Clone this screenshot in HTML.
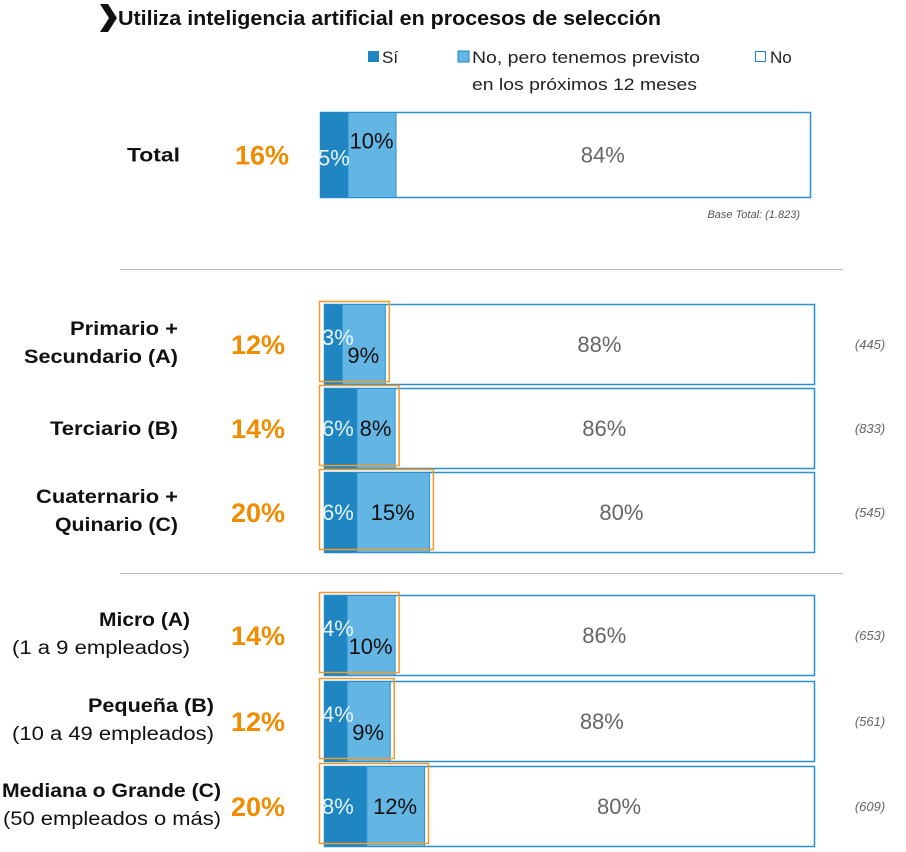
<!DOCTYPE html>
<html><head><meta charset="utf-8"><style>
body{margin:0;background:#fff}
svg{display:block;font-family:"Liberation Sans",sans-serif}
</style></head><body>
<svg id="chart" width="906" height="852" viewBox="0 0 906 852">
<path d="M100,4 L108,4 L117,18 L108,32 L100,32 L109,18 Z" fill="#111"/>
<text x="118" y="25" font-size="20" font-weight="bold" fill="#111" textLength="543" lengthAdjust="spacingAndGlyphs">Utiliza inteligencia artificial en procesos de selección</text>
<g>
<rect x="368" y="51" width="11" height="11" fill="#1f86c1"/>
<text x="382" y="63" font-size="17" fill="#222">Sí</text>
<rect x="458" y="51" width="11" height="11" fill="#63b6e4" stroke="#1f86c1" stroke-width="1"/>
<text x="472" y="63" font-size="17" fill="#222" textLength="228" lengthAdjust="spacingAndGlyphs">No, pero tenemos previsto</text>
<text x="472" y="90" font-size="17" fill="#222" textLength="225" lengthAdjust="spacingAndGlyphs">en los próximos 12 meses</text>
<rect x="755.5" y="51.5" width="10" height="10" fill="#fff" stroke="#1f86c1"/>
<text x="770" y="63" font-size="17" fill="#222">No</text>
</g>
<line x1="120" y1="269.5" x2="843" y2="269.5" stroke="#bbb"/>
<line x1="120" y1="573.5" x2="843" y2="573.5" stroke="#bbb"/>
<text x="800" y="218" font-size="11" font-style="italic" fill="#555" text-anchor="end">Base Total: (1.823)</text>
<g id="bars"></g>
</svg>
<script>
const labels1 = ["Total","Primario +","Terciario (B)","Cuaternario +","Micro (A)","Pequeña (B)","Mediana o Grande (C)"];
const labels2 = ["","Secundario (A)","","Quinario (C)","(1 a 9 empleados)","(10 a 49 empleados)","(50 empleados o más)"];
const siValues = [5,3,6,6,4,4,8];
const previstoValues = [10,9,8,15,10,9,12];
const noValues = [84,88,86,80,86,88,80];
const totalValues = ["16%","12%","14%","20%","14%","12%","20%"];
const baseValues = ["","(445)","(833)","(545)","(653)","(561)","(609)"];

const rowsY=[112,304,388,472,595,681,766], barW=490;
const labelEnd=[180,178,178,178,190,214,221];
const w1Len=[53,108,128,142,91,126,219];
const w2Len=[0,154,0,123,178,202,218];
const NS="http://www.w3.org/2000/svg", g=document.getElementById('bars');
function el(t,a,txt){const e=document.createElementNS(NS,t);for(const k in a)e.setAttribute(k,a[k]);if(txt!==undefined)e.textContent=txt;g.appendChild(e);return e;}
function sx(v){return v*4.9;}
for(let i=0;i<rowsY.length;i++){
  const y=rowsY[i], x0=i==0?320:324, barH=i==0?85:80;
  const w1=sx(siValues[i])+3, w2=sx(previstoValues[i])-1;
  const cy=y+barH/2;
  let r=el('rect',{x:x0+.5,y:y+.5,width:barW,height:barH,fill:'#fff',stroke:'#2a8fcf','stroke-width':1.5});
  
  
  r=el('rect',{x:x0+.5,y:y+.5,width:w1,height:barH,fill:'#1f86c1'});
  
  
  r=el('rect',{x:x0+.5+w1,y:y+.5,width:w2,height:barH,fill:'#63b6e4',stroke:'#2a8fcf','stroke-width':1});
  
  
  if(i>0){
    r=el('rect',{x:x0-4.5,y:y-2.5,width:w1+w2+9,height:barH,fill:'none',stroke:'#f39a2b','stroke-width':1.5});
    
    
  }
  const off=(siValues[i]<5||i==0);
  let t=el('text',{x:x0-2,y:off?(i==0?cy+11:cy+1):cy+8,'font-size':22,fill:'#e8f4fb'},siValues[i]+'%');
  
  
  t=el('text',{x:x0+w1+w2/2,y:off?(i==0?cy-6:cy+19):cy+8,'font-size':22,fill:'#111','text-anchor':'middle'},previstoValues[i]+'%');
  
  
  t=el('text',{x:x0+w1+w2+(barW-w1-w2)/2,y:cy+8,'font-size':22,fill:'#666','text-anchor':'middle'},noValues[i]+'%');
  
  
  t=el('text',{x:i==0?262:258,y:cy+10,'font-size':27,'font-weight':'bold',fill:'#f08c00','text-anchor':'middle'},totalValues[i]);
  
  
  const two=labels2[i]!=="";
  t=el('text',{x:labelEnd[i],y:two?cy-9:cy+7,'font-size':19,'font-weight':'bold',fill:'#111','text-anchor':'end',textLength:w1Len[i],lengthAdjust:'spacingAndGlyphs'},labels1[i]);
  
  
  if(two){
    t=el('text',{x:labelEnd[i],y:cy+19,'font-size':19,'font-weight':i<4?'bold':'normal',fill:'#111','text-anchor':'end',textLength:w2Len[i],lengthAdjust:'spacingAndGlyphs'},labels2[i]);
    
    
  }
  if(baseValues[i]){
    t=el('text',{x:870,y:cy+5,'font-size':13,'font-style':'italic',fill:'#666','text-anchor':'middle'},baseValues[i]);
    
    
  }
}
</script>
</body></html>
